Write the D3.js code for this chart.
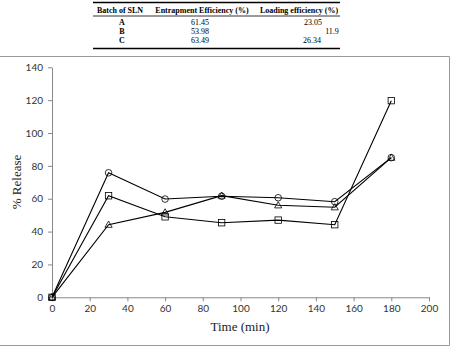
<!DOCTYPE html>
<html><head><meta charset="utf-8">
<script src="https://cdn.jsdelivr.net/npm/d3@7"></script>
<style>body{margin:0;background:#fff}svg{display:block}</style>
</head><body>
<script>
const times = [0, 30, 60, 90, 120, 150, 180];
const circleSeries = [0, 75.8, 59.8, 61.5, 60.6, 58.2, 85];
const squareSeries = [0, 61.8, 49.0, 45.4, 47.0, 44.2, 119.7];
const triangleSeries = [0, 44.2, 51.7, 61.9, 56.0, 54.8, 85];
const xTicks = [0, 20, 40, 60, 80, 100, 120, 140, 160, 180, 200];
const yTicks = [0, 20, 40, 60, 80, 100, 120, 140];
const tableHeader = ["Batch of SLN", "Entrapment Efficiency (%)", "Loading efficiency (%)"];
const tableBatch = ["A", "B", "C"];
const tableEntrap = ["61.45", "53.98", "63.49"];
const tableLoading = ["23.05", "11.9", "26.34"];

const W = 451, H = 355;
const svg = d3.select("body").append("svg").attr("width", W).attr("height", H);

// Table
const serif = "Liberation Serif, Times New Roman, serif";
const tg = svg.append("g").attr("font-family", serif).attr("font-size", 8).attr("fill", "#000");
tg.append("line").attr("x1", 93).attr("x2", 340).attr("y1", 2.5).attr("y2", 2.5).attr("stroke", "#000").attr("stroke-width", 1.3);
tg.append("line").attr("x1", 93).attr("x2", 340).attr("y1", 16).attr("y2", 16).attr("stroke", "#000").attr("stroke-width", 0.8);
tg.append("line").attr("x1", 93).attr("x2", 340).attr("y1", 48.5).attr("y2", 48.5).attr("stroke", "#000").attr("stroke-width", 1.3);
const hx = [120, 202, 299];
tableHeader.forEach((t, i) => tg.append("text").attr("x", hx[i]).attr("y", 13).attr("text-anchor", "middle").attr("font-weight", "bold").text(t));
const ry = [25, 34, 43];
tableBatch.forEach((t, i) => tg.append("text").attr("x", 122).attr("y", ry[i]).attr("text-anchor", "middle").attr("font-weight", "bold").text(t));
tableEntrap.forEach((t, i) => tg.append("text").attr("x", 200).attr("y", ry[i]).attr("text-anchor", "middle").text(t));
const lx = [313, 332, 312];
tableLoading.forEach((t, i) => tg.append("text").attr("x", lx[i]).attr("y", ry[i]).attr("text-anchor", "middle").text(t));

// Frame
svg.append("path").attr("d", "M0,56.5 H449.5 V345.5 H0").attr("fill", "none").attr("stroke", "#999").attr("stroke-width", 1);

// Chart
const x = d3.scaleLinear().domain([0, 200]).range([52, 429]);
const y = d3.scaleLinear().domain([0, 140]).range([297.3, 67.3]);

const sans = "Lato, Liberation Sans, Arial, sans-serif";
const xa = svg.append("g").attr("transform", "translate(0,297.3)")
  .call(d3.axisBottom(x).tickValues(xTicks).tickSize(4).tickSizeOuter(0).tickPadding(4));
const ya = svg.append("g").attr("transform", "translate(52,0)")
  .call(d3.axisLeft(y).tickValues(yTicks).tickSize(4).tickSizeOuter(0).tickPadding(5));
[xa, ya].forEach(a => {
  a.selectAll("path,line").attr("stroke", "#888");
  a.selectAll("text").attr("font-family", sans).attr("font-size", 10).attr("fill", "#333");
});

svg.append("text").attr("x", 240).attr("y", 331).attr("text-anchor", "middle")
  .attr("font-family", serif).attr("font-size", 13).attr("fill", "#222").text("Time (min)");
svg.append("text").attr("transform", "translate(21,182) rotate(-90)").attr("text-anchor", "middle")
  .attr("font-family", serif).attr("font-size", 13).attr("fill", "#222").text("% Release");

const line = d3.line().x((d, i) => x(times[i])).y(d => y(d));
const series = [
  {v: circleSeries, m: "circle"},
  {v: squareSeries, m: "square"},
  {v: triangleSeries, m: "triangle"}
];
series.forEach(s => {
  svg.append("path").attr("d", line(s.v)).attr("fill", "none").attr("stroke", "#000").attr("stroke-width", 1.1);
});
series.forEach(s => {
  const g = svg.append("g");
  s.v.forEach((d, i) => {
    const cx = x(times[i]), cy = y(d);
    if (s.m === "circle") {
      g.append("circle").attr("cx", cx).attr("cy", cy).attr("r", 3.3).attr("fill", "none").attr("stroke", "#000").attr("stroke-width", 0.8);
    } else if (s.m === "square") {
      g.append("rect").attr("x", cx - 3.2).attr("y", cy - 3.2).attr("width", 6.4).attr("height", 6.4).attr("fill", "none").attr("stroke", "#000").attr("stroke-width", 0.8);
    } else {
      g.append("path").attr("d", `M${cx},${cy - 3.6} L${cx + 3.6},${cy + 2.6} L${cx - 3.6},${cy + 2.6} Z`).attr("fill", "none").attr("stroke", "#000").attr("stroke-width", 0.8);
    }
  });
});
</script>
</body></html>
